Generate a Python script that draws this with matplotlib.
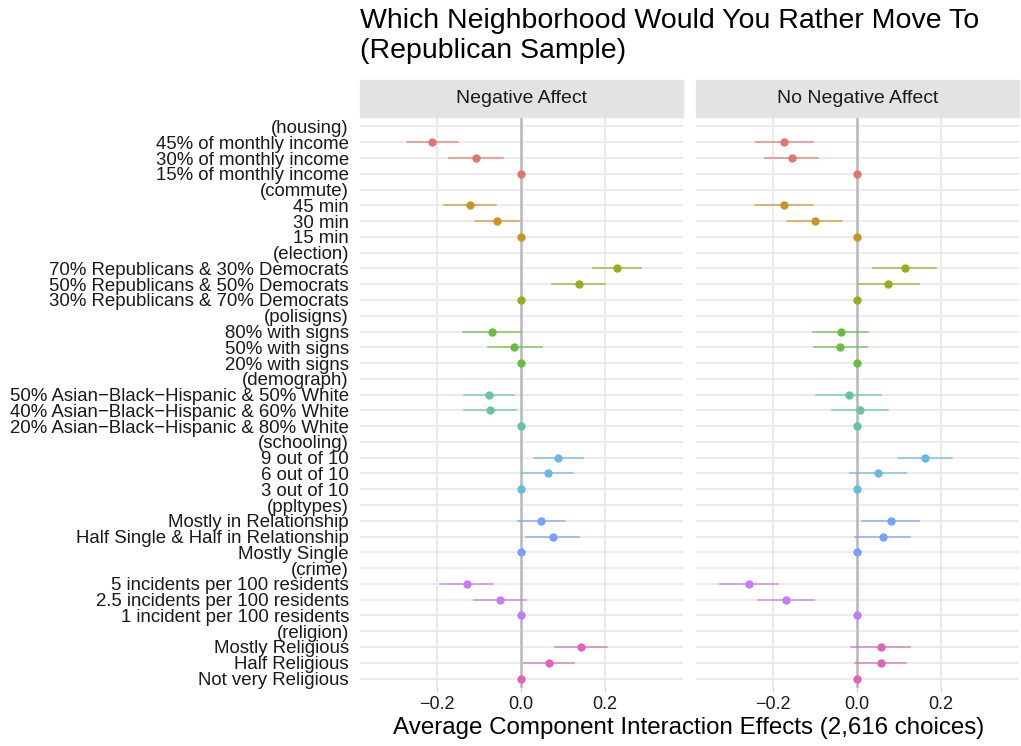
import numpy as np
import matplotlib
matplotlib.use("Agg")
from matplotlib import pyplot as plt
from matplotlib.patches import Rectangle

plt.rcParams.update({
    "font.family": ["Liberation Sans", "DejaVu Sans"],
    "axes.unicode_minus": True,
})

M = "\u2212"
levels = [
    "(housing)", "45% of monthly income", "30% of monthly income", "15% of monthly income",
    "(commute)", "45 min", "30 min", "15 min",
    "(election)", "70% Republicans & 30% Democrats", "50% Republicans & 50% Democrats",
    "30% Republicans & 70% Democrats",
    "(polisigns)", "80% with signs", "50% with signs", "20% with signs",
    "(demograph)", f"50% Asian{M}Black{M}Hispanic & 50% White",
    f"40% Asian{M}Black{M}Hispanic & 60% White", f"20% Asian{M}Black{M}Hispanic & 80% White",
    "(schooling)", "9 out of 10", "6 out of 10", "3 out of 10",
    "(ppltypes)", "Mostly in Relationship", "Half Single & Half in Relationship", "Mostly Single",
    "(crime)", "5 incidents per 100 residents", "2.5 incidents per 100 residents",
    "1 incident per 100 residents",
    "(religion)", "Mostly Religious", "Half Religious", "Not very Religious",
]
groups = (["housing"] * 4 + ["commute"] * 4 + ["election"] * 4 + ["polisigns"] * 4
          + ["demograph"] * 4 + ["schooling"] * 4 + ["ppltypes"] * 4 + ["crime"] * 4
          + ["religion"] * 4)

nan = np.nan
# Negative Affect
neg_est = [nan, -0.211, -0.106, 0, nan, -0.121, -0.057, 0, nan, 0.230, 0.138, 0,
           nan, -0.069, -0.015, 0, nan, -0.075, -0.072, 0, nan, 0.090, 0.064, 0,
           nan, 0.048, 0.076, 0, nan, -0.129, -0.049, 0, nan, 0.144, 0.067, 0]
neg_lo = [nan, -0.272, -0.171, nan, nan, -0.182, -0.109, nan, nan, 0.173, 0.075, nan,
          nan, -0.138, -0.079, nan, nan, -0.135, -0.135, nan, nan, 0.032, 0.002, nan,
          nan, -0.007, 0.012, nan, nan, -0.192, -0.111, nan, nan, 0.082, 0.007, nan]
neg_hi = [nan, -0.149, -0.041, nan, nan, -0.058, -0.003, nan, nan, 0.287, 0.201, nan,
          nan, 0.000, 0.052, nan, nan, -0.016, -0.010, nan, nan, 0.149, 0.125, nan,
          nan, 0.105, 0.140, nan, nan, -0.066, 0.012, nan, nan, 0.206, 0.128, nan]
# No Negative Affect
pos_est = [nan, -0.173, -0.155, 0, nan, -0.174, -0.100, 0, nan, 0.115, 0.075, 0,
           nan, -0.038, -0.039, 0, nan, -0.019, 0.008, 0, nan, 0.163, 0.052, 0,
           nan, 0.081, 0.062, 0, nan, -0.257, -0.169, 0, nan, 0.057, 0.057, 0]
pos_lo = [nan, -0.240, -0.219, nan, nan, -0.242, -0.166, nan, nan, 0.040, 0.002, nan,
          nan, -0.105, -0.102, nan, nan, -0.098, -0.058, nan, nan, 0.099, -0.015, nan,
          nan, 0.013, -0.005, nan, nan, -0.325, -0.236, nan, nan, -0.014, -0.005, nan]
pos_hi = [nan, -0.105, -0.092, nan, nan, -0.105, -0.034, nan, nan, 0.190, 0.149, nan,
          nan, 0.028, 0.024, nan, nan, 0.059, 0.075, nan, nan, 0.227, 0.118, nan,
          nan, 0.148, 0.128, nan, nan, -0.188, -0.102, nan, nan, 0.128, 0.118, nan]

group_colors = {
    "housing": "#E2766E", "commute": "#C99426", "election": "#9AAA22",
    "polisigns": "#6ABD42", "demograph": "#6AC3A0", "schooling": "#68B8E2",
    "ppltypes": "#77A1F9", "crime": "#C77AF3", "religion": "#E062BC",
}

W, H = 1021, 746
fig = plt.figure(figsize=(W / 100, H / 100), dpi=100)

y = np.arange(len(levels))
panels = [("Negative Affect", 360, neg_est, neg_lo, neg_hi),
          ("No Negative Affect", 696, pos_est, pos_lo, pos_hi)]
top, bottom, pw = 117, 688, 323

for i, (name, x0, est, lo, hi) in enumerate(panels):
    ax = fig.add_axes([x0 / W, (H - bottom) / H, pw / W, (bottom - top) / H])
    ax.set_xlim(-0.383, 0.387)
    ax.set_ylim(len(levels) - 0.4, -0.6)
    for yy in y:
        ax.axhline(yy, color="#EBEBEB", lw=1.5, zorder=0)
    for xx in (-0.2, 0.2):
        ax.axvline(xx, color="#EBEBEB", lw=1.5, zorder=0)
    ax.axvline(0, color="#BEBEBE", lw=2.0, zorder=1)
    for j in range(len(levels)):
        if np.isnan(est[j]):
            continue
        c = group_colors[groups[j]]
        if not np.isnan(lo[j]):
            ax.plot([lo[j], hi[j]], [j, j], color=c, lw=1.1, alpha=0.8, zorder=2)
        ax.plot(est[j], j, "o", color=c, ms=6, mec="none", zorder=3)
    for s in ax.spines.values():
        s.set_visible(False)
    ax.set_xticks([-0.2, 0, 0.2])
    ax.set_xticklabels([f"{M}0.2", "0.0", "0.2"])
    ax.tick_params(axis="x", length=3, color="#D0D0D0", labelsize=13, pad=3,
                   labelcolor="#1A1A1A")
    if i == 0:
        ax.set_yticks(y)
        ax.set_yticklabels(levels, fontsize=13.4, color="#1A1A1A")
        ax.tick_params(axis="y", length=0, pad=8)
    else:
        ax.set_yticks([])
    # facet strip
    fig.patches.append(Rectangle((x0 / W, (H - top) / H), pw / W, 37 / H,
                                 transform=fig.transFigure, color="#E3E3E3", zorder=0))
    fig.text((x0 + pw / 2) / W, (H - 98.5) / H, name, ha="center", va="center",
             fontsize=14, color="#1A1A1A")

fig.text(360 / W, (H - 8) / H, "Which Neighborhood Would You Rather Move To\n(Republican Sample)",
         ha="left", va="top", fontsize=20.5, linespacing=1.2)
fig.text((360 + 1018) / 2 / W, (H - 728) / H,
         "Average Component Interaction Effects (2,616 choices)",
         ha="center", va="center", fontsize=17.4)

fig.savefig("out.png", dpi=100)
